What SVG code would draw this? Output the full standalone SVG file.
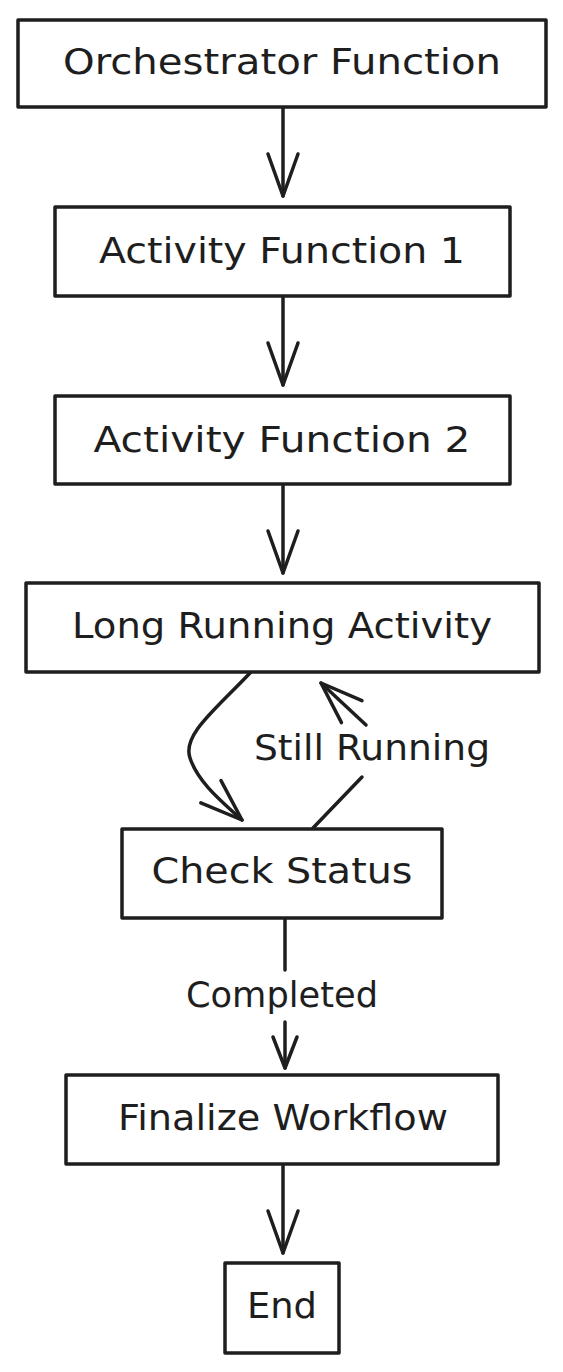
<svg xmlns="http://www.w3.org/2000/svg" width="563" height="1372" viewBox="0 0 563 1372">
  <style>
    .box { fill: #ffffff; stroke: #1e1e1e; stroke-width: 3.5; stroke-linejoin: round; }
    .lbl { font-family: "DejaVu Sans", "Liberation Sans", sans-serif; font-size: 35px; fill: #1e1e1e; text-anchor: middle; }
    .edge { fill: none; stroke: #1e1e1e; stroke-width: 3.5; stroke-linecap: round; stroke-linejoin: round; }
  </style>
  <defs>
    <marker id="head" markerUnits="userSpaceOnUse" viewBox="-48 -20 52 40" markerWidth="52" markerHeight="40" refX="0" refY="0" orient="auto" overflow="visible">
      <path d="M-42,-15 L0,0 L-42,15" fill="none" stroke="#1e1e1e" stroke-width="3.5" stroke-linecap="round" stroke-linejoin="round"/>
    </marker>
    <marker id="head-sm" markerUnits="userSpaceOnUse" viewBox="-36 -15 40 30" markerWidth="40" markerHeight="30" refX="0" refY="0" orient="auto" overflow="visible">
      <path d="M-31,-12 L0,0 L-31,12" fill="none" stroke="#1e1e1e" stroke-width="3.5" stroke-linecap="round" stroke-linejoin="round"/>
    </marker>
  </defs>
  <rect width="563" height="1372" fill="#ffffff"/>

  <g id="connectors">
    <path class="edge" d="M283,107 L283,196" marker-end="url(#head)"/>
    <path class="edge" d="M283,296 L283,385" marker-end="url(#head)"/>
    <path class="edge" d="M283,484 L283,573" marker-end="url(#head)"/>
    <path class="edge" d="M250,673 C215,710 182,735 190,758 C198,782 220,800 242,820" marker-end="url(#head)"/>
    <path class="edge" d="M313,828 L362,777"/>
    <path class="edge" d="M366,725 L321,683" marker-end="url(#head)"/>
    <text class="lbl" x="372" y="760" textLength="236" lengthAdjust="spacingAndGlyphs">Still Running</text>
    <path class="edge" d="M285,918 L285,970"/>
    <text class="lbl" x="282" y="1007" textLength="192" lengthAdjust="spacingAndGlyphs">Completed</text>
    <path class="edge" d="M285,1022 L285,1068" marker-end="url(#head-sm)"/>
    <path class="edge" d="M283,1164 L283,1253" marker-end="url(#head)"/>
  </g>

  <g id="orchestrator">
    <rect class="box" x="18" y="20" width="528" height="87"/>
    <text class="lbl" x="282" y="74" textLength="438" lengthAdjust="spacingAndGlyphs">Orchestrator Function</text>
  </g>
  <g id="activity1">
    <rect class="box" x="55" y="207" width="455" height="89"/>
    <text class="lbl" x="282" y="263" textLength="366" lengthAdjust="spacingAndGlyphs">Activity Function 1</text>
  </g>
  <g id="activity2">
    <rect class="box" x="55" y="396" width="455" height="88"/>
    <text class="lbl" x="282" y="452" textLength="377" lengthAdjust="spacingAndGlyphs">Activity Function 2</text>
  </g>
  <g id="long-running">
    <rect class="box" x="26" y="583" width="513" height="89"/>
    <text class="lbl" x="282" y="638" textLength="420" lengthAdjust="spacingAndGlyphs">Long Running Activity</text>
  </g>
  <g id="check-status">
    <rect class="box" x="122" y="829" width="320" height="89"/>
    <text class="lbl" x="282" y="883" textLength="261" lengthAdjust="spacingAndGlyphs">Check Status</text>
  </g>
  <g id="finalize">
    <rect class="box" x="66" y="1075" width="432" height="89"/>
    <text class="lbl" x="283" y="1130" textLength="330" lengthAdjust="spacingAndGlyphs">Finalize Workflow</text>
  </g>
  <g id="end">
    <rect class="box" x="225" y="1263" width="114" height="90"/>
    <text class="lbl" x="282" y="1318" textLength="70" lengthAdjust="spacingAndGlyphs">End</text>
  </g>
</svg>
